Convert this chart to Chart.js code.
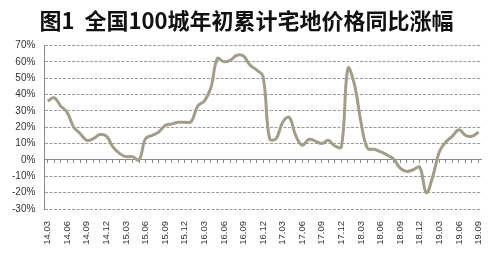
<!DOCTYPE html>
<html>
<head>
<meta charset="utf-8">
<script src="https://cdn.jsdelivr.net/npm/chart.js@4/dist/chart.umd.min.js"></script>
<style>
  html, body { margin: 0; padding: 0; background: #fff; }
  #wrap { width: 502px; height: 265px; position: relative; }
</style>
</head>
<body>
<div id="wrap"><canvas id="land-chart"></canvas></div>
<script>
/* land price yoy chart */
const titleText = '图1  全国100城年初累计宅地价格同比涨幅';

// months 2014.03 .. 2019.09
const years = ['14', '15', '16', '17', '18', '19'];
const months = [];
years.forEach((y, yi) => {
  for (let m = 1; m <= 12; m++) {
    if (yi === 0 && m < 3) continue;
    if (y === '19' && m > 9) break;
    months.push(y + '.' + String(m).padStart(2, '0'));
  }
});

// cumulative yoy change, %
const yoyValues = [
  36, 38, 33, 29, 20, 16, 12, 13, 15.5, 14.5, 8, 4,
  2, 2, 0, 13, 15, 17, 21, 22, 23, 23, 23.5, 33,
  36, 44, 62, 60, 61, 64, 63.5, 58, 55, 51, 13, 13,
  23, 26, 15, 9, 12.5, 11.5, 10, 12, 8.5, 8, 56, 46,
  23, 7, 6.5, 5, 3, 0.5, -5, -7, -6, -4.5, -20, -10,
  5, 11, 14.5, 18.5, 15, 14.5, 17
];

const yTicks = [70, 60, 50, 40, 30, 20, 10, 0, -10, -20, -30];

const ctx = document.getElementById('land-chart');
new Chart(ctx, {
  type: 'line',
  data: {
    labels: months,
    datasets: [{
      data: yoyValues,
      borderColor: '#a29d88',
      borderWidth: 3,
      pointRadius: 0,
      tension: 0.4,
      fill: false
    }]
  },
  options: {
    responsive: true,
    maintainAspectRatio: false,
    animation: false,
    layout: { padding: { left: 3, right: 12, top: 6, bottom: 0 } },
    plugins: {
      legend: { display: false },
      tooltip: { enabled: false },
      title: {
        display: true,
        text: titleText,
        color: '#111',
        font: { family: 'Noto Sans CJK SC', size: 22, weight: 'bold' },
        padding: { top: 1, bottom: 12 }
      }
    },
    scales: {
      x: {
        type: 'category',
        offset: true,
        grid: { display: false, drawTicks: false },
        border: { display: false },
        afterFit: axis => { axis.height = 56; },
        ticks: {
          autoSkip: false,
          minRotation: 90,
          maxRotation: 90,
          padding: 12,
          color: '#333',
          font: { family: 'Liberation Sans', size: 9.5 },
          callback: (v, i) => (i % 3 === 0 ? months[i] : '')
        }
      },
      x2: {
        type: 'category',
        offset: true,
        position: { y: 0 },
        grid: { drawOnChartArea: false, drawTicks: true, tickLength: 3, color: '#8a8a8a' },
        border: { display: true, color: '#8a8a8a', width: 1 },
        ticks: { display: false, autoSkip: false }
      },
      y: {
        min: -30,
        max: 70,
        afterBuildTicks: axis => { axis.ticks = yTicks.map(v => ({ value: v })); },
        grid: { color: '#9a9a9a', drawTicks: false, lineWidth: 1 },
        border: { display: true, color: '#8a8a8a', dash: [3, 1.5] },
        ticks: {
          padding: 9,
          color: '#333',
          font: { family: 'Liberation Sans', size: 10 },
          callback: v => v + '%'
        }
      }
    }
  }
});
</script>
</body>
</html>
